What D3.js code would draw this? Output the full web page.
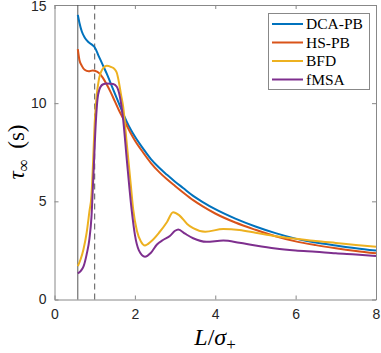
<!DOCTYPE html>
<html>
<head>
<meta charset="utf-8">
<script src="https://cdn.jsdelivr.net/npm/d3@7"></script>
<style>
  body { margin: 0; background: #fff; }
  svg { display: block; }
</style>
</head>
<body>
<svg id="chart" width="381" height="353"></svg>
<script>
// L / sigma_+ for the two PB curves
const pbL = [0.58, 0.62, 0.68, 0.75, 0.85, 0.95, 1.0, 1.1, 1.2, 1.3, 1.4, 1.5, 1.6, 1.7, 1.8, 1.9, 2.0, 2.2, 2.4, 2.6, 2.8, 3.0, 3.2, 3.45, 3.7, 4.0, 4.5, 5.0, 5.5, 6.0, 6.5, 7.0, 7.5, 8.0];
const dcaTau = [14.5, 14.1, 13.65, 13.35, 13.1, 12.95, 12.85, 12.4, 11.95, 11.5, 11.0, 10.5, 10.0, 9.5, 9.05, 8.65, 8.3, 7.7, 7.15, 6.72, 6.35, 6.0, 5.68, 5.28, 4.95, 4.6, 4.12, 3.72, 3.38, 3.1, 2.9, 2.75, 2.61, 2.49];
const hsTau = [12.75, 12.2, 11.9, 11.7, 11.62, 11.67, 11.65, 11.55, 11.3, 10.95, 10.55, 10.1, 9.65, 9.25, 8.85, 8.45, 8.1, 7.5, 6.95, 6.5, 6.12, 5.78, 5.45, 5.06, 4.73, 4.38, 3.92, 3.55, 3.22, 2.96, 2.77, 2.61, 2.47, 2.35];

const bfdL = [0.58, 0.65, 0.72, 0.8, 0.87, 0.92, 0.96, 1.0, 1.05, 1.1, 1.2, 1.3, 1.4, 1.5, 1.55, 1.6, 1.65, 1.71, 1.8, 1.9, 1.96, 2.05, 2.15, 2.25, 2.4, 2.6, 2.8, 2.95, 3.1, 3.3, 3.45, 3.75, 4.2, 4.6, 5.0, 5.5, 6.0, 6.5, 7.0, 7.5, 8.0];
const bfdTau = [1.7, 2.05, 2.55, 3.4, 4.5, 5.3, 7.0, 9.0, 10.4, 11.15, 11.75, 11.9, 11.85, 11.72, 11.55, 11.1, 10.5, 9.8, 7.9, 5.8, 4.56, 3.5, 2.95, 2.75, 2.95, 3.4, 3.95, 4.45, 4.3, 3.85, 3.63, 3.45, 3.59, 3.54, 3.4, 3.22, 3.1, 2.98, 2.88, 2.78, 2.69];

const fmsaL = [0.58, 0.65, 0.72, 0.8, 0.87, 0.92, 0.97, 1.03, 1.07, 1.11, 1.2, 1.3, 1.46, 1.55, 1.63, 1.71, 1.8, 1.92, 2.0, 2.1, 2.25, 2.4, 2.55, 2.7, 2.87, 3.0, 3.08, 3.25, 3.45, 3.78, 4.2, 4.6, 5.0, 5.5, 6.0, 6.5, 7.0, 7.5, 8.0];
const fmsaTau = [1.33, 1.45, 1.67, 2.3, 3.1, 4.2, 6.4, 9.1, 10.2, 10.65, 10.95, 11.0, 10.98, 10.84, 10.3, 9.14, 7.1, 4.56, 3.3, 2.5, 2.18, 2.38, 2.8, 3.03, 3.23, 3.5, 3.57, 3.35, 3.12, 2.94, 3.0, 2.89, 2.75, 2.6, 2.5, 2.43, 2.35, 2.29, 2.22];

const seriesNames = ["DCA-PB", "HS-PB", "BFD", "fMSA"];
const seriesColors = ["#0072BD", "#D95319", "#EDB120", "#7E2F8E"];
const xTicks = [0, 2, 4, 6, 8];
const yTicks = [0, 5, 10, 15];
const solidLineL = 0.58;
const dashedLineL = 1.0;

const seriesData = [
  d3.zip(pbL, dcaTau),
  d3.zip(pbL, hsTau),
  d3.zip(bfdL, bfdTau),
  d3.zip(fmsaL, fmsaTau)
];

const plotLeft = 54.5, plotRight = 376, plotTop = 5, plotBottom = 299.5;
const x = d3.scaleLinear().domain([0, 8]).range([plotLeft, plotRight]);
const y = d3.scaleLinear().domain([0, 15]).range([plotBottom, plotTop]);

const svg = d3.select("#chart");
const axisColor = "#262626";

// axes (bottom/left with labels, top/right ticks only)
const tickLen = 4;
svg.append("g")
  .attr("transform", `translate(0,${plotBottom})`)
  .call(d3.axisBottom(x).tickValues(xTicks).tickSizeInner(-tickLen).tickSizeOuter(0).tickPadding(10))
  .call(g => g.selectAll("text").attr("font-size", 14).attr("fill", axisColor));
svg.append("g")
  .attr("transform", `translate(${plotLeft},0)`)
  .call(d3.axisLeft(y).tickValues(yTicks).tickSizeInner(-tickLen).tickSizeOuter(0).tickPadding(8))
  .call(g => g.selectAll("text").attr("font-size", 14).attr("fill", axisColor)
    .attr("dy", (d) => d === 15 ? "0.4em" : "0.32em"));
svg.append("g")
  .attr("transform", `translate(0,${plotTop})`)
  .call(d3.axisTop(x).tickValues(xTicks).tickSizeInner(-tickLen).tickSizeOuter(0).tickFormat(""));
svg.append("g")
  .attr("transform", `translate(${plotRight},0)`)
  .call(d3.axisRight(y).tickValues(yTicks).tickSizeInner(-tickLen).tickSizeOuter(0).tickFormat(""));

svg.selectAll(".domain").attr("stroke", "#888").attr("stroke-width", 1);
svg.selectAll(".tick line").attr("stroke", "#888");
svg.selectAll(".tick text").attr("font-family", "'Liberation Sans', Arial, sans-serif");

// vertical reference lines
svg.append("line")
  .attr("x1", x(solidLineL)).attr("x2", x(solidLineL))
  .attr("y1", y(0)).attr("y2", y(15))
  .attr("stroke", "#555").attr("stroke-width", 1);
svg.append("line")
  .attr("x1", x(dashedLineL)).attr("x2", x(dashedLineL))
  .attr("y1", y(0)).attr("y2", y(15))
  .attr("stroke", "#555").attr("stroke-width", 1)
  .attr("stroke-dasharray", "6,4");

// curves
const line = d3.line()
  .x(d => x(d[0]))
  .y(d => y(d[1]))
  .curve(d3.curveMonotoneX);

svg.append("g")
  .selectAll("path")
  .data(seriesData)
  .enter()
  .append("path")
  .attr("d", line)
  .attr("fill", "none")
  .attr("stroke", (d, i) => seriesColors[i])
  .attr("stroke-width", 2)
  .attr("stroke-linejoin", "round");

// legend
const legend = svg.append("g").attr("transform", "translate(268,13)");
legend.append("rect")
  .attr("x", 0.5).attr("y", 0.5)
  .attr("width", 101).attr("height", 76)
  .attr("fill", "#fff").attr("stroke", "#888");
const legendItems = legend.selectAll(".item")
  .data(seriesNames)
  .enter()
  .append("g")
  .attr("transform", (d, i) => `translate(0,${11 + i * 18.5})`);
legendItems.append("line")
  .attr("x1", 4).attr("x2", 35)
  .attr("stroke", (d, i) => seriesColors[i])
  .attr("stroke-width", 2);
legendItems.append("text")
  .attr("x", 38).attr("y", 5)
  .attr("font-family", "'Liberation Serif', 'Times New Roman', serif")
  .attr("font-size", 15.5)
  .attr("fill", "#000")
  .text(d => d);

// axis labels
const xLabel = svg.append("text")
  .attr("x", 215).attr("y", 345)
  .attr("text-anchor", "middle")
  .attr("font-family", "'Liberation Serif', 'Times New Roman', serif")
  .attr("font-size", 24)
  .attr("fill", "#000");
xLabel.append("tspan").attr("font-style", "italic").text("L");
xLabel.append("tspan").text("/");
xLabel.append("tspan").attr("font-style", "italic").text("σ");
xLabel.append("tspan").attr("font-size", 17).attr("dy", 5).text("+");

const yLabel = svg.append("text")
  .attr("transform", "translate(24,152) rotate(-90)")
  .attr("text-anchor", "middle")
  .attr("font-family", "'Liberation Serif', 'Times New Roman', serif")
  .attr("font-size", 23)
  .attr("fill", "#000");
yLabel.append("tspan").attr("font-style", "italic").text("τ");
yLabel.append("tspan").attr("font-size", 17).attr("dy", 5).text("∞");
yLabel.append("tspan").attr("dy", -5).attr("xml:space", "preserve").text("\u2009 (s)");
</script>
</body>
</html>
